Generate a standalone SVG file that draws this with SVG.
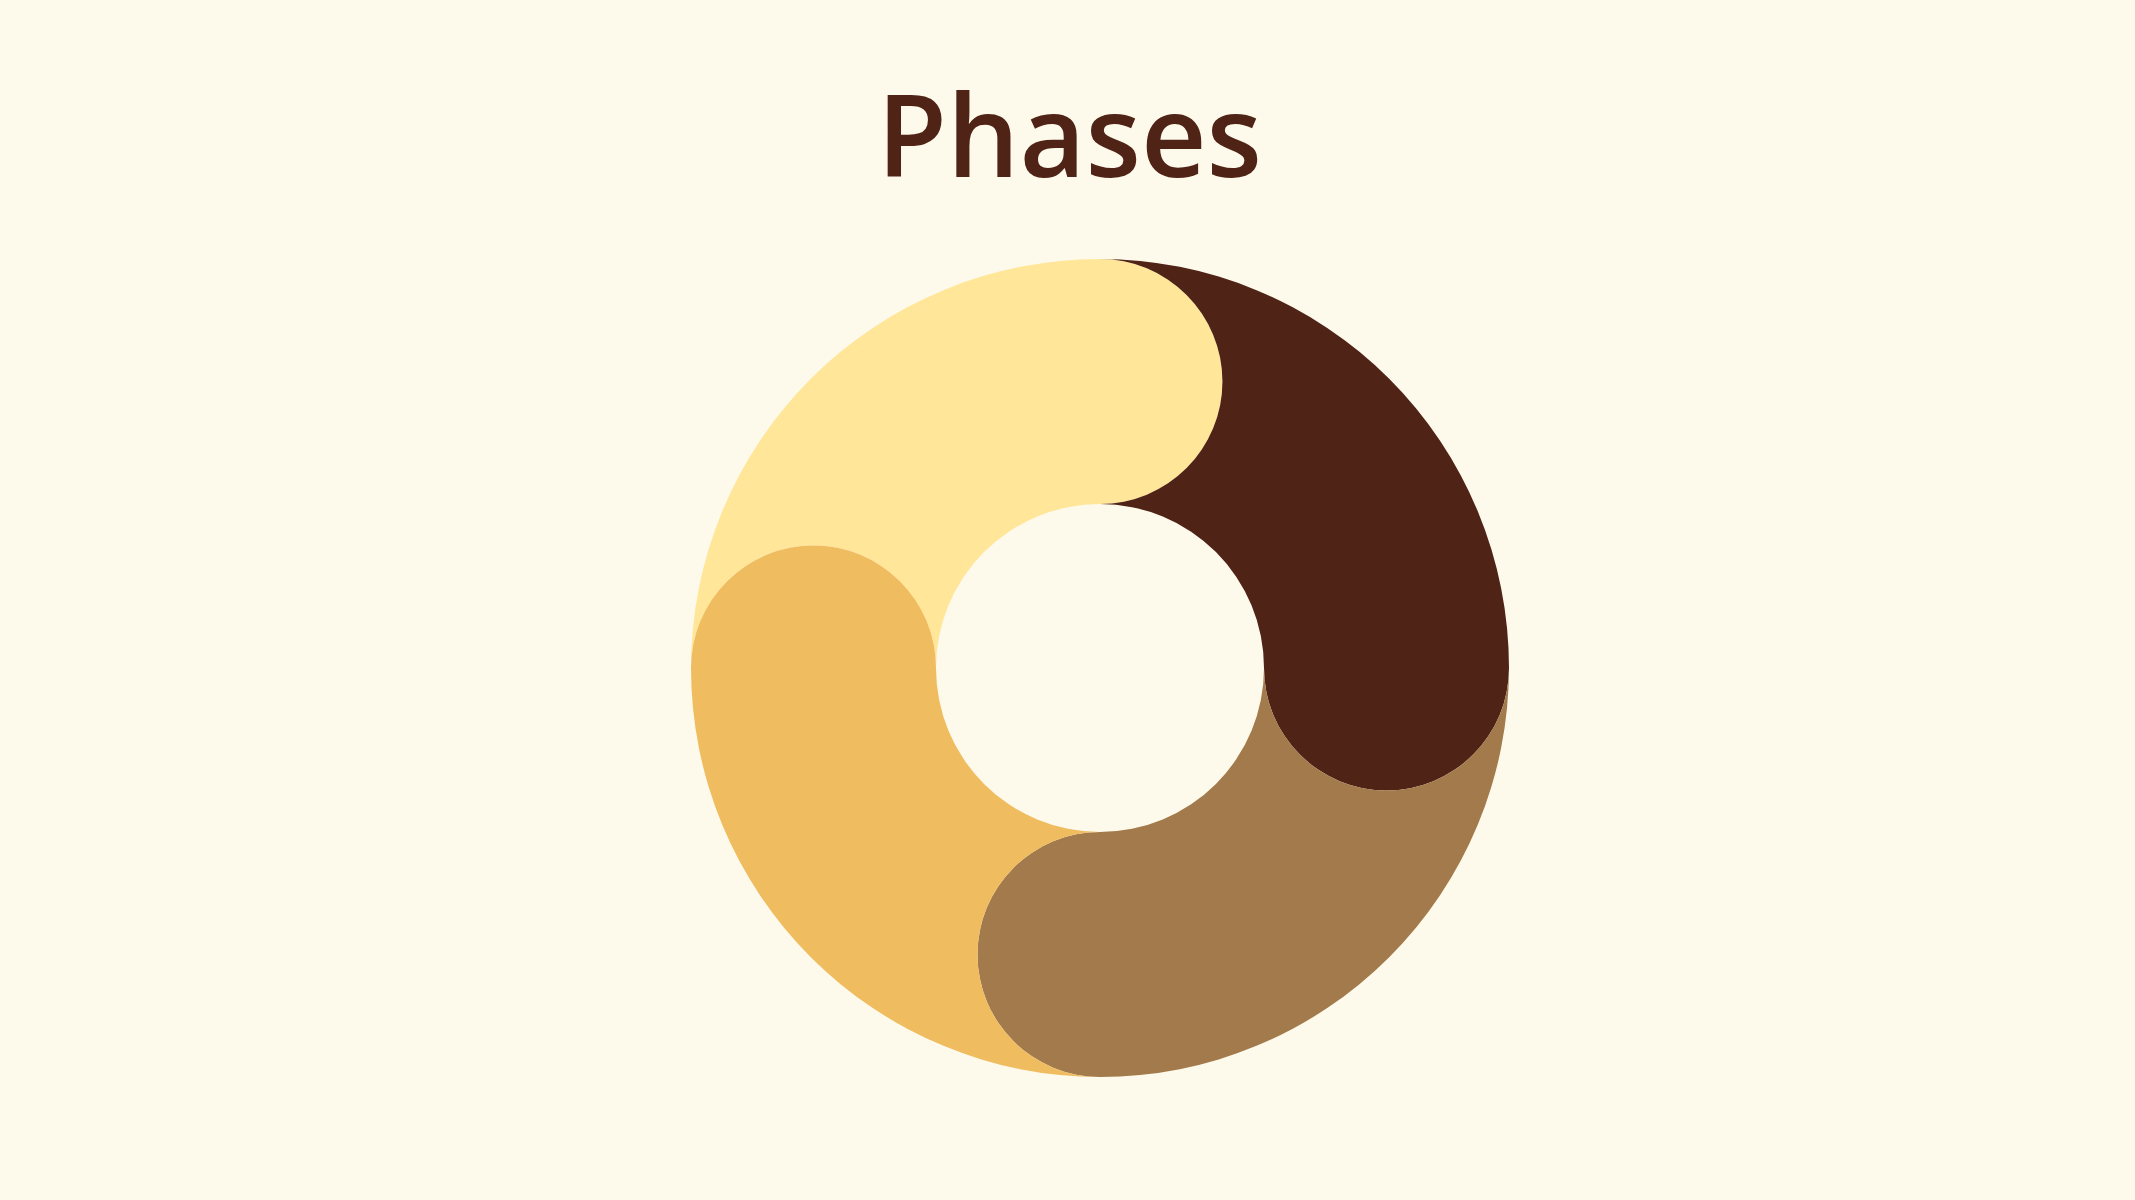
<svg xmlns="http://www.w3.org/2000/svg" width="2135" height="1200" viewBox="0 0 2135 1200">
  <style>
    .title { font-family: "Open Sans", "Noto Sans", "Liberation Sans", sans-serif; font-size: 114px; font-weight: 600; fill: #4F2316; }
    .seg { stroke: none; }
  </style>
  <rect width="2135" height="1200" fill="#FEFAEB"/>
  <text class="title" x="1069.5" y="177" text-anchor="middle" textLength="385" lengthAdjust="spacingAndGlyphs">Phases</text>
  <g id="phase-1">
    <path class="seg" fill="#FFE699" d="M 691 668 A 409 409 0 0 1 1100 259 A 122.5 122.5 0 0 1 1100 504 A 164 164 0 0 0 936 668 A 122.5 122.5 0 0 0 691 668 Z"/>
  </g>
  <g id="phase-2">
    <path class="seg" fill="#4F2316" d="M 1100 259 A 409 409 0 0 1 1509 668 A 122.5 122.5 0 0 1 1264 668 A 164 164 0 0 0 1100 504 A 122.5 122.5 0 0 0 1100 259 Z"/>
  </g>
  <g id="phase-3">
    <path class="seg" fill="#A37A4B" d="M 1509 668 A 409 409 0 0 1 1100 1077 A 122.5 122.5 0 0 1 1100 832 A 164 164 0 0 0 1264 668 A 122.5 122.5 0 0 0 1509 668 Z"/>
  </g>
  <g id="phase-4">
    <path class="seg" fill="#F0BC60" d="M 1100 1077 A 409 409 0 0 1 691 668 A 122.5 122.5 0 0 1 936 668 A 164 164 0 0 0 1100 832 A 122.5 122.5 0 0 0 1100 1077 Z"/>
  </g>
</svg>
